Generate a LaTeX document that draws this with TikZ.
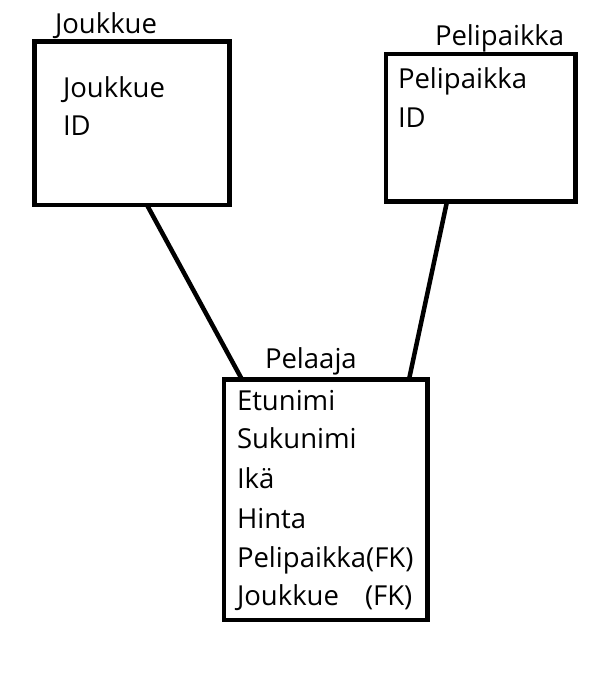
\documentclass[tikz,border=0pt]{standalone}
\usepackage{fontspec}
\setmainfont{Open Sans}
\begin{document}
\begin{tikzpicture}[x=1pt,y=-1pt,line width=4.5pt,
 every node/.style={inner sep=0pt,outer sep=0pt},
 table/.style={draw,rectangle},
 field/.style={anchor=base west,font=\fontsize{27.5}{32}\selectfont}]
\useasboundingbox (0,0) rectangle (609,686);
% boxes
\node[table,minimum width=195pt,minimum height=163.5pt] (joukkue) at (132,123.25) {};
\node[table,minimum width=189.5pt,minimum height=147.5pt] (pelipaikka) at (480.75,127.75) {};
\node[table,minimum width=203.5pt,minimum height=240.5pt] (pelaaja) at (325.75,499.75) {};
% titles
\node[field] at (55,33) {Joukkue};
\node[field] at (435,45) {Pelipaikka};
\node[field] at (265,368) {Pelaaja};
% fields
\node[field] at (63,97) {Joukkue};
\node[field] at (63,135) {ID};
\node[field] at (398,88) {Pelipaikka};
\node[field] at (398,127) {ID};
\node[field] at (237,410) {Etunimi};
\node[field] at (237,448) {Sukunimi};
\node[field] at (237,488) {Ikä};
\node[field] at (237,528) {Hinta};
\node[field] at (237,567) {Pelipaikka(FK)};
\node[field] at (237,605) {Joukkue};
\node[field] at (365,605) {(FK)};
% links
\draw ([xshift=15pt]joukkue.south) -- ([xshift=-83.75pt]pelaaja.north);
\draw ([xshift=-33.75pt]pelipaikka.south) -- ([xshift=83.25pt]pelaaja.north);
\end{tikzpicture}
\end{document}
